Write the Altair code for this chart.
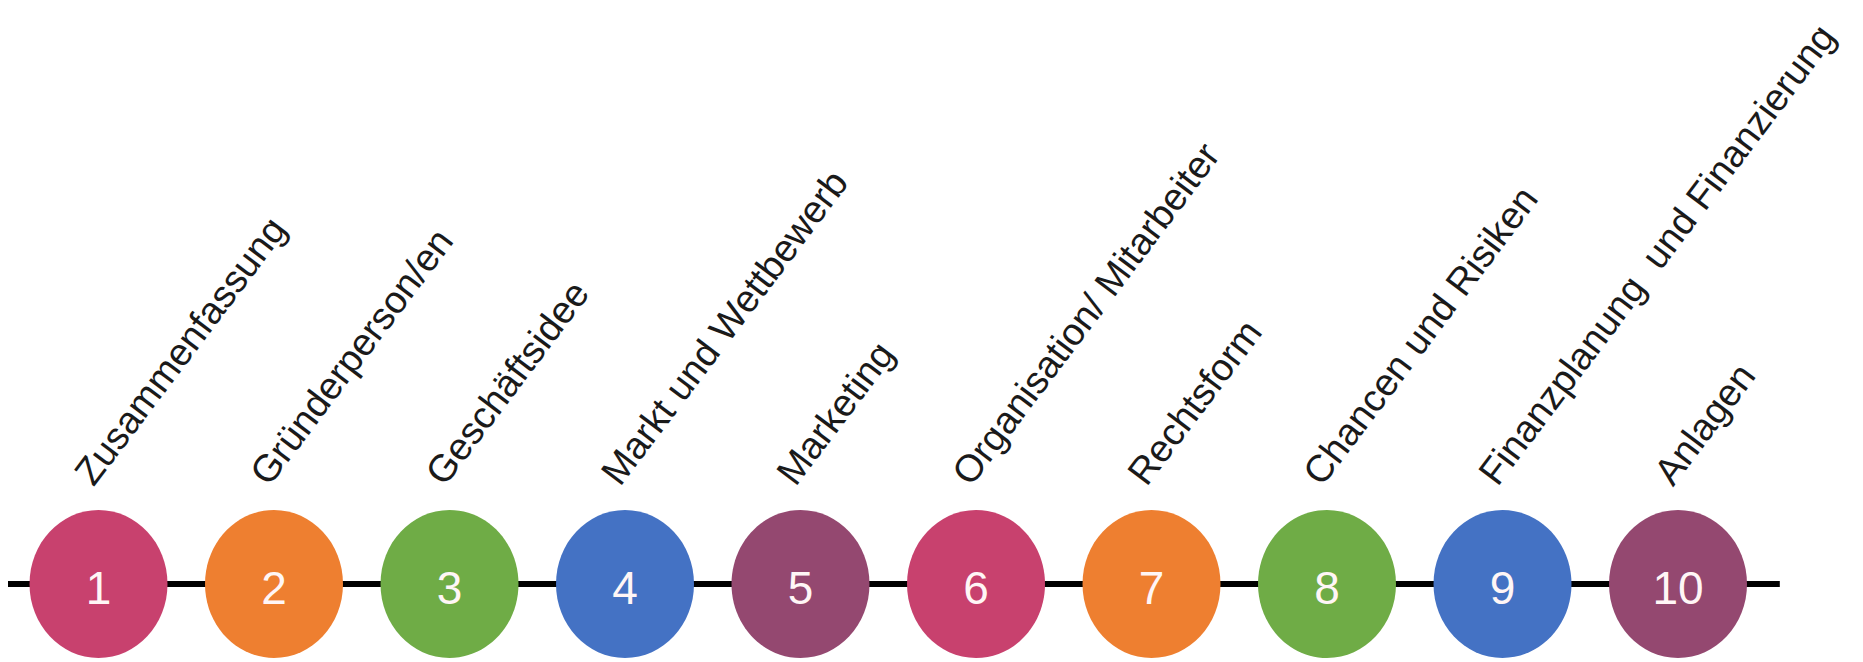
import altair as alt
import pandas as pd

steps = [1, 2, 3, 4, 5, 6, 7, 8, 9, 10]
numbers = ["1", "2", "3", "4", "5", "6", "7", "8", "9", "10"]
labels = [
    "Zusammenfassung",
    "Gründerperson/en",
    "Geschäftsidee",
    "Markt und Wettbewerb",
    "Marketing",
    "Organisation/ Mitarbeiter",
    "Rechtsform",
    "Chancen und Risiken",
    "Finanzplanung\u00a0 und Finanzierung",
    "Anlagen",
]
colors = ["#C8416E", "#EE7F30", "#6FAC46", "#4472C4", "#944870",
          "#C8416E", "#EE7F30", "#6FAC46", "#4472C4", "#944870"]

line_start = [0.4843]
line_end = [10.58]

df = pd.DataFrame({"step": steps, "num": numbers, "label": labels,
                   "color": colors, "row": [0] * len(steps)})
line_df = pd.DataFrame({"x": line_start, "x2": line_end, "row": [0]})

xscale = alt.Scale(domain=[0.4843, 11.0085], nice=False, zero=False)
yscale = alt.Scale(domain=[-78, 576], nice=False, zero=False)

ellipse = ("M0,-1.072C0.552,-1.072,1,-0.592,1,0C1,0.592,0.552,1.072,0,1.072"
           "C-0.552,1.072,-1,0.592,-1,0C-1,-0.592,-0.552,-1.072,0,-1.072Z")

line = alt.Chart(line_df).mark_rule(color="black", strokeWidth=6).encode(
    x=alt.X("x:Q", scale=xscale, axis=None),
    x2="x2:Q",
    y=alt.Y("row:Q", scale=yscale, axis=None),
)

dots = alt.Chart(df).mark_point(
    shape=ellipse, size=19044, filled=True, opacity=1, strokeWidth=0
).encode(
    x=alt.X("step:Q", scale=xscale, axis=None),
    y=alt.Y("row:Q", scale=yscale, axis=None),
    color=alt.Color("color:N", scale=None),
)

nums = alt.Chart(df).mark_text(
    font="Liberation Sans", fontSize=46, color="#FFF6F6",
    align="center", baseline="alphabetic", dy=20
).encode(
    x=alt.X("step:Q", scale=xscale, axis=None),
    y=alt.Y("row:Q", scale=yscale, axis=None),
    text="num:N",
)

texts = alt.Chart(df).mark_text(
    font="Liberation Sans", fontSize=38, color="#1a1a1a",
    align="left", baseline="alphabetic", angle=307, dx=74, dy=-62
).encode(
    x=alt.X("step:Q", scale=xscale, axis=None),
    y=alt.Y("row:Q", scale=yscale, axis=None),
    text="label:N",
)

chart = alt.layer(line, dots, nums, texts).properties(
    width=1847, height=654,
    autosize=alt.AutoSizeParams(type="none"),
    padding=0,
).configure_view(stroke=None)

chart.save("out.html", embed_options={"renderer": "svg", "actions": False})
